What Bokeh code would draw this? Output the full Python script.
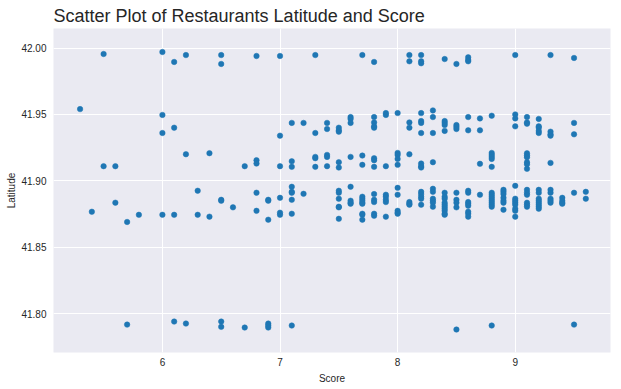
from bokeh.plotting import figure
from bokeh.models import Range1d, FixedTicker, NumeralTickFormatter, ColumnDataSource
from bokeh.embed import file_html
from bokeh.resources import INLINE

title_text = "Scatter Plot of Restaurants Latitude and Score"
x_label = "Score"
y_label = "Latitude"
x_ticks = [6, 7, 8, 9]
y_ticks = [41.80, 41.85, 41.90, 41.95, 42.00]

score = [
    5.3,
    5.4,
    5.5, 5.5,
    5.6, 5.6,
    5.7, 5.7,
    5.8,
    6.0, 6.0, 6.0, 6.0,
    6.1, 6.1, 6.1, 6.1,
    6.2, 6.2, 6.2,
    6.3, 6.3,
    6.4, 6.4,
    6.5, 6.5, 6.5, 6.5, 6.5, 6.5,
    6.6,
    6.7, 6.7,
    6.8, 6.8, 6.8, 6.8, 6.8,
    6.9, 6.9, 6.9, 6.9, 6.9, 6.9,
    7.0, 7.0, 7.0, 7.0, 7.0, 7.0,
    7.1, 7.1, 7.1, 7.1, 7.1, 7.1, 7.1, 7.1, 7.1,
    7.2, 7.2,
    7.3, 7.3, 7.3, 7.3, 7.3,
    7.4, 7.4, 7.4, 7.4, 7.4,
    7.5, 7.5, 7.5, 7.5, 7.5, 7.5, 7.5, 7.5, 7.5, 7.5, 7.5,
    7.6, 7.6, 7.6, 7.6, 7.6, 7.6, 7.6, 7.6,
    7.7, 7.7, 7.7, 7.7, 7.7, 7.7, 7.7, 7.7, 7.7, 7.7, 7.7,
    7.8, 7.8, 7.8, 7.8, 7.8, 7.8, 7.8, 7.8, 7.8, 7.8, 7.8, 7.8, 7.8,
    7.9, 7.9, 7.9, 7.9, 7.9, 7.9, 7.9, 7.9,
    8.0, 8.0, 8.0, 8.0, 8.0, 8.0, 8.0, 8.0, 8.0, 8.0,
    8.1, 8.1, 8.1, 8.1, 8.1, 8.1, 8.1, 8.1,
    8.2, 8.2, 8.2, 8.2, 8.2, 8.2, 8.2, 8.2, 8.2, 8.2, 8.2, 8.2, 8.2, 8.2, 8.2,
    8.3, 8.3, 8.3, 8.3, 8.3, 8.3, 8.3, 8.3, 8.3, 8.3,
    8.4, 8.4, 8.4, 8.4, 8.4, 8.4, 8.4, 8.4, 8.4, 8.4, 8.4, 8.4, 8.4, 8.4, 8.4,
    8.5, 8.5, 8.5, 8.5, 8.5, 8.5, 8.5, 8.5, 8.5,
    8.6, 8.6, 8.6, 8.6, 8.6, 8.6, 8.6, 8.6, 8.6, 8.6, 8.6, 8.6, 8.6,
    8.7, 8.7, 8.7, 8.7,
    8.8, 8.8, 8.8, 8.8, 8.8, 8.8, 8.8, 8.8, 8.8, 8.8, 8.8, 8.8, 8.8, 8.8, 8.8,
    8.9, 8.9, 8.9, 8.9, 8.9, 8.9, 8.9,
    9.0, 9.0, 9.0, 9.0, 9.0, 9.0, 9.0, 9.0, 9.0, 9.0, 9.0, 9.0,
    9.1, 9.1, 9.1, 9.1, 9.1, 9.1, 9.1, 9.1, 9.1, 9.1, 9.1, 9.1, 9.1, 9.1, 9.1,
    9.2, 9.2, 9.2, 9.2, 9.2, 9.2, 9.2, 9.2, 9.2, 9.2, 9.2, 9.2, 9.2,
    9.3, 9.3, 9.3, 9.3, 9.3, 9.3, 9.3, 9.3, 9.3, 9.3,
    9.4, 9.4, 9.4, 9.4,
    9.5, 9.5, 9.5, 9.5, 9.5,
    9.6, 9.6,
]

latitude = [
    41.954,
    41.8767,
    41.9955, 41.911,
    41.911, 41.8835,
    41.869, 41.7917,
    41.8744,
    41.997, 41.9496, 41.936, 41.8744,
    41.9895, 41.940, 41.8744, 41.794,
    41.9947, 41.920, 41.7925,
    41.8925, 41.8744,
    41.9208, 41.873,
    41.9947, 41.988, 41.8857, 41.885, 41.794, 41.790,
    41.880,
    41.911, 41.7895,
    41.994, 41.9155, 41.913, 41.891, 41.8774,
    41.8857, 41.885, 41.8707, 41.7925, 41.791, 41.7895,
    41.994, 41.934, 41.911, 41.8872, 41.876, 41.8744,
    41.9436, 41.9147, 41.9105, 41.8955, 41.8917, 41.891, 41.8857, 41.8752, 41.791,
    41.9436, 41.8902,
    41.9947, 41.936, 41.918, 41.917, 41.9105,
    41.9436, 41.939, 41.9195, 41.918, 41.911,
    41.940, 41.938, 41.937, 41.914, 41.910, 41.8925, 41.891, 41.8865, 41.8805, 41.880, 41.8714,
    41.948, 41.9466, 41.9436, 41.918, 41.8955, 41.885, 41.8835, 41.8827,
    41.9947, 41.919, 41.912, 41.888, 41.8865, 41.885, 41.8835, 41.8827, 41.8752, 41.8744, 41.8707,
    41.9895, 41.948, 41.944, 41.941, 41.940, 41.917, 41.9155, 41.9105, 41.890, 41.8857, 41.884, 41.8752, 41.8737,
    41.951, 41.9496, 41.911, 41.8895, 41.888, 41.8857, 41.884, 41.873,
    41.951, 41.921, 41.9195, 41.9165, 41.912, 41.8947, 41.8895, 41.8774, 41.876, 41.8752,
    41.9947, 41.990, 41.944, 41.940, 41.920, 41.884, 41.8827, 41.882,
    41.9947, 41.990, 41.9885, 41.951, 41.945, 41.9436, 41.936, 41.913, 41.911, 41.910, 41.8917, 41.890, 41.888, 41.8865, 41.882,
    41.953, 41.948, 41.936, 41.914, 41.894, 41.8917, 41.8865, 41.885, 41.8835, 41.8805,
    41.9917, 41.945, 41.9436, 41.942, 41.9376, 41.891, 41.888, 41.8865, 41.8835, 41.882, 41.8805, 41.879, 41.8774, 41.8752, 41.8744,
    41.988, 41.942, 41.9406, 41.939, 41.891, 41.8857, 41.8835, 41.880, 41.788,
    41.993, 41.991, 41.990, 41.948, 41.938, 41.8925, 41.891, 41.884, 41.8827, 41.8812, 41.8767, 41.8752, 41.873,
    41.947, 41.938, 41.9128, 41.8895,
    41.949, 41.921, 41.9195, 41.918, 41.9165, 41.9105, 41.891, 41.8895, 41.888, 41.8865, 41.885, 41.8835, 41.882, 41.8805, 41.791,
    41.8932, 41.8917, 41.890, 41.8872, 41.885, 41.8835, 41.8782,
    41.9947, 41.950, 41.947, 41.941, 41.8962, 41.8865, 41.885, 41.8835, 41.882, 41.879, 41.8774, 41.873,
    41.948, 41.944, 41.943, 41.9207, 41.919, 41.9177, 41.914, 41.9125, 41.909, 41.8932, 41.891, 41.8895, 41.8835, 41.882, 41.8805,
    41.9466, 41.941, 41.940, 41.9376, 41.936, 41.8932, 41.891, 41.8865, 41.885, 41.8835, 41.882, 41.8805, 41.879,
    41.9947, 41.937, 41.935, 41.934, 41.9135, 41.8932, 41.891, 41.8865, 41.885, 41.8835,
    41.8872, 41.885, 41.8835, 41.8827,
    41.9925, 41.9436, 41.935, 41.891, 41.7917,
    41.8917, 41.8865,
]

n = min(len(score), len(latitude))
source = ColumnDataSource(data=dict(score=score[:n], latitude=latitude[:n]))

TEXT = "#262626"
FONT = "Liberation Sans"

p = figure(
    width=621, height=389,
    output_backend="svg", toolbar_location=None,
    x_range=Range1d(5.074, 9.81),
    y_range=Range1d(41.7707, 42.0147),
    min_border_left=53, min_border_right=11,
    min_border_top=28, min_border_bottom=37,
    title=title_text,
)

p.background_fill_color = "#EAEAF2"
p.border_fill_color = "white"
p.outline_line_color = None

p.title.text_font = FONT
p.title.text_font_size = "18px"
p.title.text_font_style = "normal"
p.title.text_color = TEXT
p.title.offset = 0
p.title.standoff = 5

p.grid.grid_line_color = "white"
p.grid.grid_line_width = 1

p.xaxis.ticker = FixedTicker(ticks=x_ticks)
p.yaxis.ticker = FixedTicker(ticks=y_ticks)
p.yaxis.formatter = NumeralTickFormatter(format="0.00")

for ax in (p.xaxis, p.yaxis):
    ax.axis_line_color = None
    ax.major_tick_line_color = None
    ax.minor_tick_line_color = None
    ax.major_tick_out = 0
    ax.major_tick_in = 0
    ax.minor_tick_out = 0
    ax.minor_tick_in = 0
    ax.major_label_text_font = FONT
    ax.major_label_text_font_size = "10px"
    ax.major_label_text_color = TEXT
    ax.axis_label_text_font = FONT
    ax.axis_label_text_font_size = "10px"
    ax.axis_label_text_font_style = "normal"
    ax.axis_label_text_color = TEXT

p.xaxis.axis_label = x_label
p.yaxis.axis_label = y_label
p.xaxis.major_label_standoff = 5
p.yaxis.major_label_standoff = 7
p.xaxis.axis_label_standoff = 4
p.yaxis.axis_label_standoff = 1

p.scatter(x="score", y="latitude", source=source, size=5.5,
          fill_color="#1f77b4", line_color="#1f77b4", line_width=0.5)

open("out.html", "w").write(file_html(p, INLINE))
